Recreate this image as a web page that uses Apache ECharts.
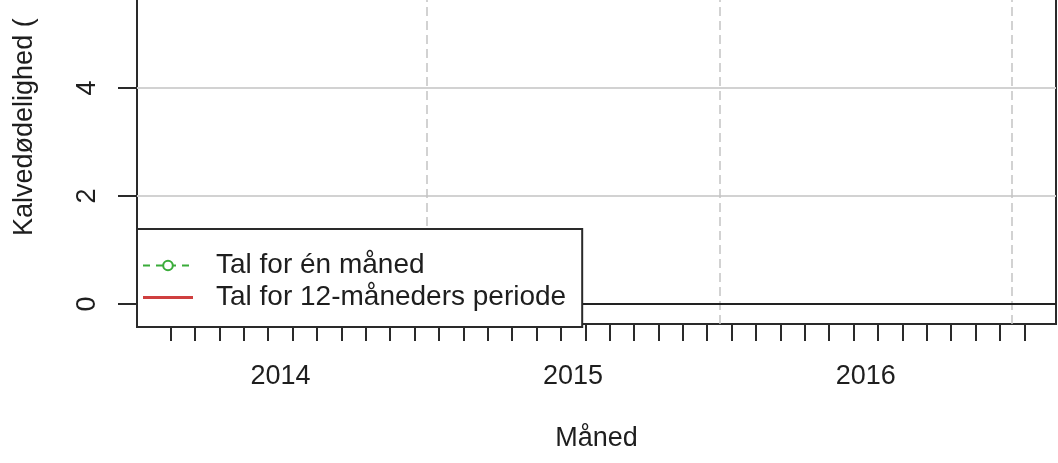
<!DOCTYPE html>
<html>
<head>
<meta charset="utf-8">
<script src="https://cdn.jsdelivr.net/npm/echarts@6/dist/echarts.min.js"></script>
<style>
html,body{margin:0;padding:0;background:#fff;}
#chart{width:1058px;height:463px;}
</style>
</head>
<body>
<div id="chart"></div>
<script>
// ---- data (months since 2014-01-01 on the x axis) ----
const months = ['2014-02','2014-03','2014-04','2014-05','2014-06','2014-07','2014-08','2014-09','2014-10','2014-11','2014-12',
  '2015-01','2015-02','2015-03','2015-04','2015-05','2015-06','2015-07','2015-08','2015-09','2015-10','2015-11','2015-12',
  '2016-01','2016-02','2016-03','2016-04','2016-05','2016-06','2016-07','2016-08','2016-09','2016-10','2016-11','2016-12',
  '2017-01'];
// No values are drawn in the reference (missing data)
const monthlyValues = months.map(() => null);   // Tal for én måned
const rollingValues = months.map(() => null);   // Tal for 12-måneders periode
const yearLabels = ['2014','2015','2016'];
const yearBoundaries = [2015, 2016, 2017];
const yTickValues = [0, 2, 4, 6];
const referenceLevel = [0];

const seriesNames = ['Tal for én måned', 'Tal for 12-måneders periode'];
const yTitle = 'Kalvedødelighed (';
const xTitle = 'Måned';

// helpers: convert month string to axis position (mid-month)
function monthPos(m){ const [y, mo] = m.split('-').map(Number); return (y - 2014) * 12 + (mo - 1) + 0.5; }
const tickPositions = months.map(monthPos);
const yearMid = yearLabels.map(y => (Number(y) - 2014) * 12 + 6);
const yearStart = yearBoundaries.map(y => (y - 2014) * 12);

const FONT = "'Liberation Sans', Arial, sans-serif";
const TXT = '#1e1e1e';
const GREEN = '#3aac3a', RED = '#cf3f3f';
const chart = echarts.init(document.getElementById('chart'));
chart.setOption({
  backgroundColor: '#fff',
  animation: false,
  textStyle: { fontFamily: FONT },
  grid: { left: 137, right: 2, top: -20, bottom: 139, outerBoundsMode: 'none', containLabel: false,
    show: true, borderColor: '#2a2a2a', borderWidth: 2, backgroundColor: 'transparent' },
  xAxis: {
    type: 'value', min: 0.12, max: 37.8,
    axisLine: { show: false, onZero: false },
    splitLine: { show: false },
    axisTick: { show: true, customValues: tickPositions, length: 17, lineStyle: { color: '#2a2a2a', width: 2 } },
    axisLabel: { customValues: yearMid, margin: 39, fontSize: 27, color: TXT, fontFamily: FONT,
      formatter: v => yearLabels[yearMid.indexOf(v)] || '' },
    name: xTitle, nameLocation: 'middle', nameGap: 101,
    nameTextStyle: { fontSize: 27, color: TXT, fontFamily: FONT }
  },
  yAxis: {
    type: 'value', min: -0.37, max: 6,
    axisLine: { show: false, onZero: false },
    axisTick: { show: true, customValues: yTickValues, length: 19, lineStyle: { color: '#2a2a2a', width: 2 } },
    axisLabel: { customValues: yTickValues, rotate: 90, margin: 36, fontSize: 27, color: TXT, fontFamily: FONT },
    splitNumber: 3,
    splitLine: { show: true, lineStyle: { color: '#d2d2d2', width: 2 } }
  },
  legend: {
    data: [
      { name: seriesNames[0] },
      { name: seriesNames[1], icon: 'path://M0,0h50v3h-50z' }
    ],
    orient: 'vertical', left: 137, top: 229, z: 20, zlevel: 0,
    padding: [21, 16, 14, 5],
    itemWidth: 50, itemHeight: 12, itemGap: 1, symbolKeepAspect: true,
    backgroundColor: '#ffffff', borderColor: '#2a2a2a', borderWidth: 2, borderRadius: 0,
    selectedMode: false,
    textStyle: { fontSize: 28, color: TXT, lineHeight: 31, padding: [0, 0, 0, 18], fontFamily: FONT }
  },
  graphic: [{
    type: 'text', x: 25, y: 236, rotation: Math.PI / 2,
    style: { text: yTitle, fontSize: 27, fill: TXT, fontFamily: FONT, textAlign: 'left', textVerticalAlign: 'middle' }
  }],
  series: [
    {
      name: seriesNames[0], type: 'line',
      data: months.map((m, i) => [tickPositions[i], monthlyValues[i]]),
      symbol: 'emptyCircle', symbolSize: 7,
      itemStyle: { color: GREEN, borderWidth: 2 },
      lineStyle: { color: GREEN, width: 2, type: [7, 6] },
      z: 3
    },
    {
      name: seriesNames[1], type: 'line',
      data: months.map((m, i) => [tickPositions[i], rollingValues[i]]),
      symbol: 'none',
      itemStyle: { color: RED },
      lineStyle: { color: RED, width: 3 },
      z: 3
    },
    {
      name: 'ref', type: 'line', data: [],
      silent: true, z: 2,
      markLine: {
        silent: true, symbol: 'none', label: { show: false }, animation: false, z: 2,
        data: yearStart.map(x => ({ xAxis: x, lineStyle: { color: '#c4c4c4', width: 1.5, type: [9, 5] } }))
          .concat(referenceLevel.map(y => ({ yAxis: y, lineStyle: { color: '#222', width: 2, type: 'solid' } })))
      }
    }
  ]
});
</script>
</body>
</html>
